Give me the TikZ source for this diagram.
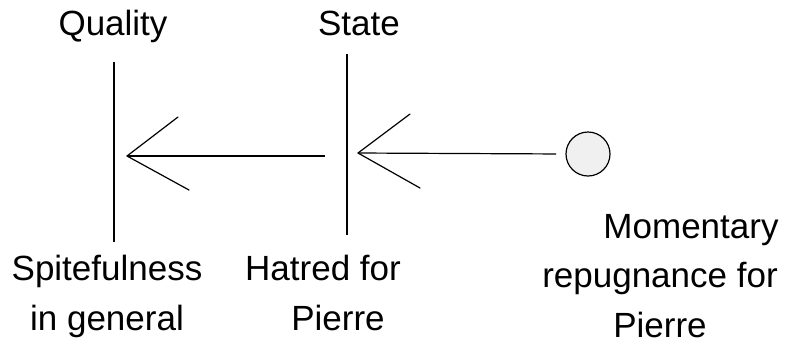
\documentclass[tikz,border=0pt]{standalone}
\usepackage{fontspec}
\setmainfont{Liberation Sans}
\begin{document}
\begin{tikzpicture}[
  x=0.5pt, y=-0.5pt,
  label/.style={font=\fontsize{17.5}{24.75}\selectfont, align=center, anchor=base, inner sep=0pt},
  bar/.style={line width=0.6pt},
  shaft/.style={line width=0.6pt},
  barb/.style={line width=0.6pt, line cap=round},
  dot/.style={circle, draw, fill=black!6, line width=0.6pt, minimum size=22pt, inner sep=0pt, outer sep=0pt}
]
\useasboundingbox (0,0) rectangle (785,350);

% Headings
\node[label] (quality) at (113, 35) {Quality};
\node[label] (state) at (359, 35) {State};

% Bars
\coordinate (qtop) at (114, 62);
\coordinate (qbot) at (114, 242);
\coordinate (stop) at (347, 54);
\coordinate (sbot) at (347, 235);
\draw[bar] (qtop) -- (qbot);
\draw[bar] (stop) -- (sbot);

% Momentary feeling
\node[dot] (moment) at (588, 154) {};

% Arrow tips and tails
\coordinate (tipA) at (127, 156);
\coordinate (tailA) at (325, 156);
\coordinate (tipB) at (358, 153);

% Arrows
\draw[shaft, line width=0.9pt] (tailA) -- (tipA);
\draw[barb] (tipA) -- ++(51, -39);
\draw[barb] (tipA) -- ++(62, 34);
\draw[shaft, shorten <=5pt] (moment.west) -- (tipB);
\draw[barb] (tipB) -- ++(52, -39);
\draw[barb] (tipB) -- ++(62, 35);

% Lower labels (base is the last line)
\node[label] (spite) at (107, 330) {Spitefulness\\in general};
\node[label] (hatred) at (338, 330) {Hatred for\hspace*{15pt}\\Pierre};
\node[label] (repug) at (660, 337) {\hspace*{31pt}Momentary\\repugnance for\\Pierre};

\end{tikzpicture}
\end{document}
